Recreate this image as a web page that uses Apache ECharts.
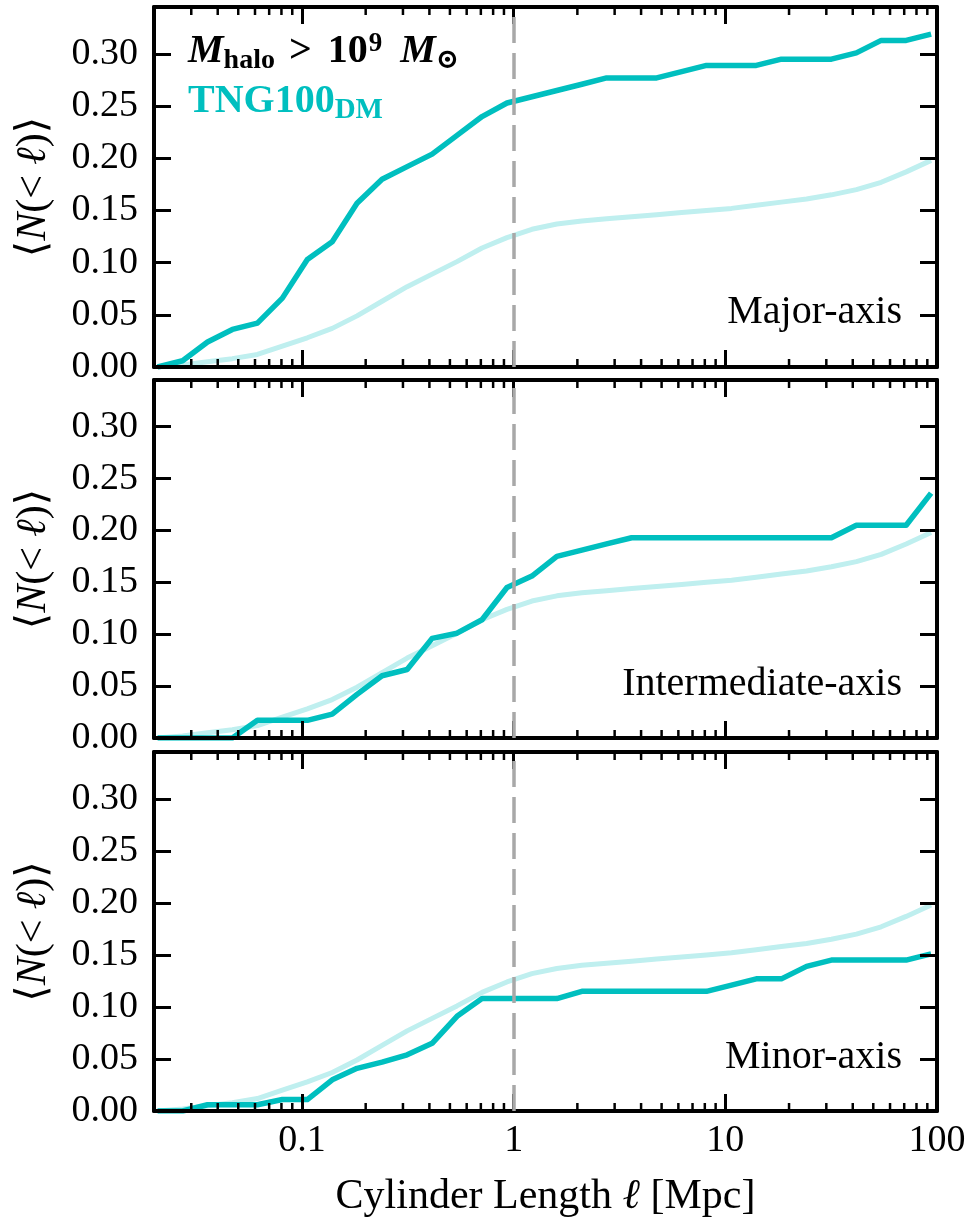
<!DOCTYPE html>
<html>
<head>
<meta charset="utf-8">
<script src="https://cdn.jsdelivr.net/npm/echarts@6/dist/echarts.min.js"></script>
<style>
html,body{margin:0;padding:0;background:#fff;}
#chart{width:971px;height:1221px;}
</style>
</head>
<body>
<div id="chart"></div>
<script>
// ---------------- data ----------------
const X_LENGTH = [0.0208, 0.0273, 0.0358, 0.0469, 0.0616, 0.0808, 0.106, 0.139, 0.182, 0.239,
  0.314, 0.412, 0.540, 0.709, 0.930, 1.22, 1.60, 2.10, 2.75, 3.61,
  4.74, 6.22, 8.15, 10.7, 14.0, 18.4, 24.2, 31.7, 41.6, 54.5, 71.5, 93.8];

const REFERENCE = [0, 0.002, 0.005, 0.008, 0.012, 0.020, 0.028, 0.037, 0.049, 0.063,
  0.077, 0.089, 0.101, 0.114, 0.124, 0.132, 0.137, 0.140, 0.142, 0.144,
  0.146, 0.148, 0.150, 0.152, 0.155, 0.158, 0.161, 0.165, 0.170, 0.177, 0.187, 0.198];

const MAJOR_AXIS = [0, 0.006, 0.024, 0.036, 0.042, 0.066, 0.103, 0.120, 0.157, 0.180,
  0.192, 0.204, 0.222, 0.240, 0.253, 0.259, 0.265, 0.271, 0.277, 0.277,
  0.277, 0.283, 0.289, 0.289, 0.289, 0.295, 0.295, 0.295, 0.301, 0.313, 0.313, 0.319];

const INTERMEDIATE_AXIS = [0, 0, 0, 0, 0.017, 0.017, 0.017, 0.023, 0.042, 0.060,
  0.066, 0.096, 0.101, 0.114, 0.145, 0.156, 0.175, 0.181, 0.187, 0.193,
  0.193, 0.193, 0.193, 0.193, 0.193, 0.193, 0.193, 0.193, 0.205, 0.205, 0.205, 0.236];

const MINOR_AXIS = [0, 0, 0.006, 0.006, 0.006, 0.011, 0.011, 0.030, 0.041, 0.047,
  0.054, 0.065, 0.091, 0.108, 0.108, 0.108, 0.108, 0.115, 0.115, 0.115,
  0.115, 0.115, 0.115, 0.121, 0.127, 0.127, 0.139, 0.145, 0.145, 0.145, 0.145, 0.151];

const PANEL_LABELS = ['Major-axis', 'Intermediate-axis', 'Minor-axis'];
const X_TICK_VALUES = [0.1, 1, 10, 100];
const X_TICK_LABELS = ['0.1', '1', '10', '100'];
const X_MINOR_TICKS = [0.03, 0.04, 0.05, 0.06, 0.07, 0.08, 0.09,
  0.2, 0.3, 0.4, 0.5, 0.6, 0.7, 0.8, 0.9,
  2, 3, 4, 5, 6, 7, 8, 9,
  20, 30, 40, 50, 60, 70, 80, 90];
const Y_TICK_LABELS = ['0.00', '0.05', '0.10', '0.15', '0.20', '0.25', '0.30'];
const X_MIN = 0.02, X_MAX = 100;
const Y_MIN = 0, Y_MAX = 0.345, Y_STEP = 0.05;
const REF_LINE_X = 1;

// ---------------- style / layout ----------------
const FONT = '"Liberation Serif", "Times New Roman", "DejaVu Serif", serif';
const DARK = '#00bfbf';
const LIGHT = '#bfefef';
const GRID_LEFT = 154, GRID_WIDTH = 783;
const GRID_TOPS = [7, 380, 752];
const GRID_HEIGHTS = [360, 358, 359];
const MINOR_LEN = 8;

const PANEL_DATA = [MAJOR_AXIS, INTERMEDIATE_AXIS, MINOR_AXIS];

function xLabel(v) {
  for (let i = 0; i < X_TICK_VALUES.length; i++) {
    if (Math.abs(Math.log10(v) - Math.log10(X_TICK_VALUES[i])) < 1e-6) return X_TICK_LABELS[i];
  }
  return '';
}
function yLabel(v) {
  const idx = Math.round(v / Y_STEP);
  if (Math.abs(v - idx * Y_STEP) < 1e-9 && idx < Y_TICK_LABELS.length) return Y_TICK_LABELS[idx];
  return '';
}

const italicRich = { i: { fontStyle: 'italic', fontFamily: FONT, fontSize: 42, color: '#000' } };

function xAxisFor(i, pos) {
  const showLabels = pos === 'bottom' && i === 2;
  return {
    type: 'log', logBase: 10, gridIndex: i, position: pos, min: X_MIN, max: X_MAX, z: 4,
    axisLine: { show: true, onZero: false, lineStyle: { color: '#000', width: 4 } },
    axisTick: { show: true, inside: true, length: 17, lineStyle: { color: '#000', width: 3 } },
    minorTick: { show: false },
    splitLine: { show: false },
    minorSplitLine: { show: false },
    axisLabel: { show: showLabels, formatter: xLabel, margin: 11, color: '#000', fontFamily: FONT, fontSize: 38 },
    name: showLabels ? 'Cylinder Length {i|ℓ} [Mpc]' : '',
    nameLocation: 'middle', nameGap: 65,
    nameTextStyle: { color: '#000', fontFamily: FONT, fontSize: 42, rich: italicRich }
  };
}
function yAxisFor(i, pos) {
  const left = pos === 'left';
  return {
    type: 'value', gridIndex: i, position: pos, min: Y_MIN, max: Y_MAX, interval: Y_STEP, z: 4,
    axisLine: { show: true, onZero: false, lineStyle: { color: '#000', width: 4 } },
    axisTick: { show: true, inside: true, length: 17, lineStyle: { color: '#000', width: 3 } },
    splitLine: { show: false },
    axisLabel: { show: left, formatter: yLabel, margin: 16, color: '#000', fontFamily: FONT, fontSize: 38 },
    name: left ? '⟨{i|N}(< {i|ℓ})⟩' : '',
    nameLocation: 'middle', nameGap: 99, nameRotate: 90,
    nameTextStyle: { color: '#000', fontFamily: FONT, fontSize: 42, rich: italicRich }
  };
}

function minorTicks(params, api) {
  const v = api.value(0);
  const b = api.coord([v, Y_MIN]);
  const t = api.coord([v, Y_MAX]);
  const st = { stroke: '#000', lineWidth: 2.5 };
  return {
    type: 'group',
    children: [
      { type: 'line', shape: { x1: b[0], y1: b[1], x2: b[0], y2: b[1] - MINOR_LEN }, style: st },
      { type: 'line', shape: { x1: t[0], y1: t[1], x2: t[0], y2: t[1] + MINOR_LEN }, style: st }
    ]
  };
}

const grids = [], xAxes = [], yAxes = [], series = [];
PANEL_DATA.forEach((vals, i) => {
  grids.push({ left: GRID_LEFT, top: GRID_TOPS[i], width: GRID_WIDTH, height: GRID_HEIGHTS[i],
    containLabel: false, outerBoundsMode: 'none', show: false });
  xAxes.push(xAxisFor(i, 'bottom'));
  xAxes.push(xAxisFor(i, 'top'));
  yAxes.push(yAxisFor(i, 'left'));
  yAxes.push(yAxisFor(i, 'right'));
  series.push({
    type: 'line', name: 'reference', xAxisIndex: 2 * i, yAxisIndex: 2 * i, z: 1,
    data: X_LENGTH.map((x, k) => [x, REFERENCE[k]]),
    symbol: 'none', showSymbol: false, silent: true,
    lineStyle: { color: LIGHT, width: 5, join: 'round' }
  });
  series.push({
    type: 'line', name: 'TNG100_DM', xAxisIndex: 2 * i, yAxisIndex: 2 * i, z: 2,
    data: X_LENGTH.map((x, k) => [x, vals[k]]),
    symbol: 'none', showSymbol: false, silent: true,
    lineStyle: { color: DARK, width: 5.5, join: 'round' }
  });
  series.push({
    type: 'custom', xAxisIndex: 2 * i, yAxisIndex: 2 * i, z: 3, silent: true, clip: false,
    data: X_MINOR_TICKS.map(v => [v, Y_MIN]),
    encode: { x: 0, y: 1 },
    renderItem: minorTicks,
    markLine: {
      silent: true, symbol: ['none', 'none'], animation: false,
      label: { show: false },
      lineStyle: { color: '#a8a8a8', width: 3.5, type: [26, 10] },
      data: [{ xAxis: REF_LINE_X }]
    }
  });
});

const labelY = [312, 684, 1057];
const graphic = PANEL_LABELS.map((t, i) => ({
  type: 'text', x: 902, y: labelY[i], z: 10, silent: true,
  style: { text: t, fontFamily: FONT, fontSize: 40, fill: '#000', align: 'right', verticalAlign: 'middle' }
}));
const boldRich = {
  b: { fontFamily: FONT, fontWeight: 'bold', fontSize: 40, lineHeight: 46, fill: '#000' },
  op: { fontFamily: FONT, fontWeight: 'bold', fontSize: 40, lineHeight: 46, fill: '#000', padding: [0, 16, 0, 14] },
  mi: { fontFamily: FONT, fontWeight: 'bold', fontStyle: 'italic', fontSize: 40, lineHeight: 46, fill: '#000' },
  mi2: { fontFamily: FONT, fontWeight: 'bold', fontStyle: 'italic', fontSize: 40, lineHeight: 46, fill: '#000', padding: [0, 0, 0, 18] },
  sub: { fontFamily: FONT, fontWeight: 'bold', fontSize: 28, verticalAlign: 'bottom', fill: '#000' },
  sup: { fontFamily: FONT, fontWeight: 'bold', fontSize: 27, verticalAlign: 'top', padding: [2, 0, 0, 1], fill: '#000' }
};
graphic.push({
  type: 'text', x: 188, y: 29, z: 10, silent: true,
  style: { text: '{mi|M}{sub|halo}{op|>}{b|10}{sup|9}{mi2|M}{sub|⊙}', align: 'left', verticalAlign: 'top', rich: boldRich }
});
graphic.push({
  type: 'text', x: 188, y: 79, z: 10, silent: true,
  style: {
    text: '{b|TNG100}{sub|DM}', align: 'left', verticalAlign: 'top',
    rich: {
      b: { fontFamily: FONT, fontWeight: 'bold', fontSize: 40, lineHeight: 46, fill: DARK },
      sub: { fontFamily: FONT, fontWeight: 'bold', fontSize: 29, verticalAlign: 'bottom', fill: DARK }
    }
  }
});

const chart = echarts.init(document.getElementById('chart'), null, { renderer: 'canvas' });
chart.setOption({
  animation: false,
  backgroundColor: '#fff',
  grid: grids,
  xAxis: xAxes,
  yAxis: yAxes,
  series: series,
  graphic: graphic
});
</script>
</body>
</html>
